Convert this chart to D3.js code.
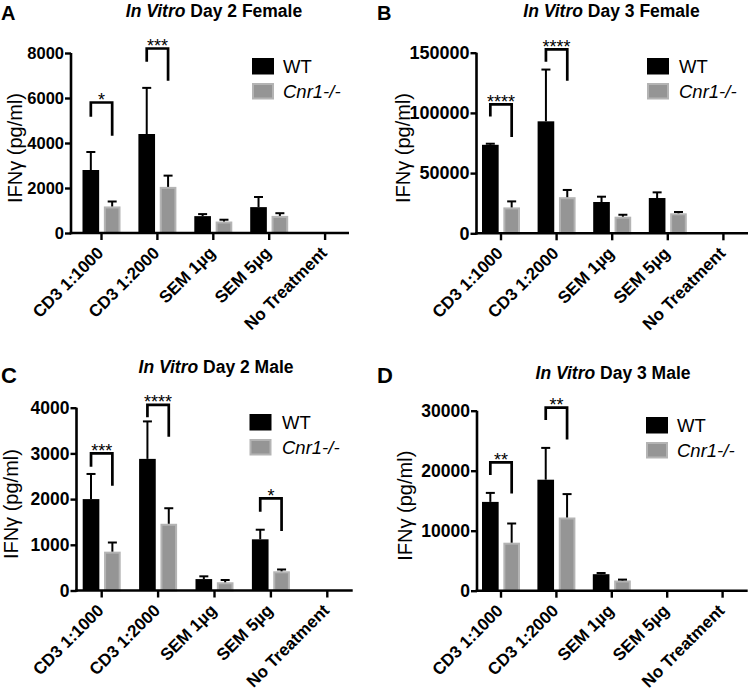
<!DOCTYPE html>
<html><head><meta charset="utf-8">
<script src="https://cdn.jsdelivr.net/npm/d3@7"></script>
<style>body{margin:0;background:#fff} text{font-family:"Liberation Sans",Arial,Helvetica,sans-serif}</style>
</head><body>
<svg id="chart" width="750" height="690"></svg>
<script>
// ---------- data ----------
const categories = ["CD3 1:1000", "CD3 1:2000", "SEM 1µg", "SEM 5µg", "No Treatment"];
const seriesNames = ["WT", "Cnr1-/-"];
const panelLetters = ["A", "B", "C", "D"];
const titleItalic = "In Vitro";
const titleRest = ["Day 2 Female", "Day 3 Female", "Day 2 Male", "Day 3 Male"];
const yLabel = "IFNγ (pg/ml)";

const yTicksA = [0, 2000, 4000, 6000, 8000];
const yTicksB = [0, 50000, 100000, 150000];
const yTicksC = [0, 1000, 2000, 3000, 4000];
const yTicksD = [0, 10000, 20000, 30000];

// means and error (upper SD) per panel
const wtA = [2800, 4400, 750, 1150, 0];
const wtErrA = [800, 2050, 90, 450, 0];
const koA = [1180, 2050, 510, 760, 0];
const koErrA = [220, 500, 80, 120, 0];

const wtB = [73500, 93000, 26000, 29300, 0];
const wtErrB = [900, 43000, 4400, 4700, 0];
const koB = [21500, 30000, 13800, 16600, 0];
const koErrB = [5000, 6000, 1600, 1100, 0];

const wtC = [2000, 2880, 250, 1120, 0];
const wtErrC = [550, 820, 60, 210, 0];
const koC = [850, 1460, 180, 420, 0];
const koErrC = [200, 340, 50, 40, 0];

const wtD = [14800, 18500, 2750, 0, 0];
const wtErrD = [1500, 5300, 200, 0, 0];
const koD = [8000, 12200, 1700, 0, 0];
const koErrD = [3200, 3900, 150, 0, 0];

// significance brackets: [category index, top, left end, right end, label] (data units)
const sigA = [[0, 5800, 5170, 4320, "*"], [1, 8200, 7610, 6770, "***"]];
const sigB = [[0, 107000, 97000, 80000, "****"], [1, 152800, 142500, 126700, "****"]];
const sigC = [[0, 3000, 2710, 2290, "***"], [1, 4060, 3790, 3365, "****"], [3, 2017, 1724, 1302, "*"]];
const sigD = [[0, 21400, 19300, 16200, "**"], [1, 30500, 28450, 25200, "**"]];

// ---------- layout ----------
const layout = [
  {ax: 71, axEnd: 349, firstTick: 101.5, step: 55.9, y0: 233, y1: 53, tickFont: 16.5,
   labX: 15, titleX: 214, titleY: 17, letX: 1, letY: 19.5, letFont: 20, legX: 252, legY: 58, legText: 283},
  {ax: 476.5, axEnd: 748, firstTick: 501, step: 55.6, y0: 233.3, y1: 52.7, tickFont: 18,
   labX: 403, titleX: 611.5, titleY: 17, letX: 377, letY: 19.5, letFont: 20, legX: 647, legY: 58, legText: 679},
  {ax: 76.5, axEnd: 352.7, firstTick: 101.7, step: 56.4, y0: 590.5, y1: 407.7, tickFont: 17.5,
   labX: 11, titleX: 216, titleY: 373, letX: 1, letY: 383, letFont: 22, legX: 249.5, legY: 414, legText: 282},
  {ax: 477, axEnd: 747.7, firstTick: 501, step: 55.4, y0: 590.7, y1: 410.7, tickFont: 17.5,
   labX: 405, titleX: 613, titleY: 379, letX: 377, letY: 383, letFont: 22, legX: 646, legY: 417, legText: 677}
];
const panelTicks = [yTicksA, yTicksB, yTicksC, yTicksD];
const panelVals = [[wtA, koA], [wtB, koB], [wtC, koC], [wtD, koD]];
const panelErrs = [[wtErrA, koErrA], [wtErrB, koErrB], [wtErrC, koErrC], [wtErrD, koErrD]];
const panelSig = [sigA, sigB, sigC, sigD];

const fills = ["#000000", "#959595"];
const strokes = ["#000000", "#b4b4b4"];

const svg = d3.select("#chart");

layout.forEach((p, pi) => {
  const g = svg.append("g");
  const ticks = panelTicks[pi];
  const y = d3.scaleLinear().domain([0, d3.max(ticks)]).range([p.y0, p.y1]);
  const x = d3.scaleBand().domain(categories)
    .range([p.firstTick - p.step / 2, p.firstTick + p.step * 4.5]);
  const xs = d3.scaleBand().domain(seriesNames).range([-19, 19]).paddingInner(0.22);
  const cx = (c, s) => x(c) + x.bandwidth() / 2 + xs(s) + xs.bandwidth() / 2;

  // bars
  seriesNames.forEach((s, si) => {
    const rows = categories.map((c, i) => ({c, v: panelVals[pi][si][i], e: panelErrs[pi][si][i]}));
    const bw = xs.bandwidth();
    g.selectAll(null).data(rows.filter(d => d.v > 0)).enter().append("rect")
      .attr("x", d => cx(d.c, s) - bw / 2 + (si ? 1 : 0))
      .attr("width", bw - (si ? 2 : 0))
      .attr("y", d => y(d.v) + (si ? 1 : 0))
      .attr("height", d => y(0) - y(d.v) - (si ? 1 : 0))
      .attr("fill", fills[si])
      .attr("stroke", si ? strokes[si] : "none")
      .attr("stroke-width", 2);
    const er = rows.filter(d => d.e > 0);
    g.selectAll(null).data(er).enter().append("line")
      .attr("x1", d => cx(d.c, s)).attr("x2", d => cx(d.c, s))
      .attr("y1", d => y(d.v)).attr("y2", d => y(d.v + d.e))
      .attr("stroke", "#000").attr("stroke-width", 2);
    g.selectAll(null).data(er).enter().append("line")
      .attr("x1", d => cx(d.c, s) - 4.5).attr("x2", d => cx(d.c, s) + 4.5)
      .attr("y1", d => y(d.v + d.e)).attr("y2", d => y(d.v + d.e))
      .attr("stroke", "#000").attr("stroke-width", 2);
  });

  // y axis
  const yAxis = g.append("g").attr("transform", `translate(${p.ax},0)`)
    .call(d3.axisLeft(y).tickValues(ticks).tickSize(6).tickSizeOuter(0).tickPadding(1).tickFormat(d3.format("d")));
  yAxis.select(".domain").attr("stroke-width", 2.6).attr("d", `M0,${p.y1}V${p.y0 + 1.3}`);
  yAxis.selectAll(".tick line").attr("stroke-width", 2.4);
  yAxis.selectAll(".tick text").attr("font-size", p.tickFont).attr("font-weight", "bold")
    .attr("font-family", "Liberation Sans, Arial, sans-serif").attr("fill", "#000");

  // x axis
  const xAxis = g.append("g").attr("transform", `translate(0,${p.y0})`)
    .call(d3.axisBottom(x).tickSize(7).tickSizeOuter(0));
  xAxis.select(".domain").remove();
  xAxis.append("line").attr("x1", p.ax - 1.3).attr("x2", p.axEnd).attr("y1", 0).attr("y2", 0)
    .attr("stroke", "#000").attr("stroke-width", 2.6);
  xAxis.selectAll(".tick line").attr("stroke-width", 2.4);
  xAxis.selectAll(".tick text")
    .attr("font-size", 17).attr("font-weight", "bold").attr("fill", "#000")
    .attr("font-family", "Liberation Sans, Arial, sans-serif")
    .attr("text-anchor", "end").attr("dy", null).attr("x", 0).attr("y", 0)
    .attr("transform", "translate(3,21) rotate(-45)");

  // y label
  g.append("text").attr("transform", `translate(${p.labX},${(p.y0 + p.y1) / 2 + 5}) rotate(-90)`)
    .attr("text-anchor", "middle").attr("font-size", 20).attr("dy", "0.35em").text(yLabel);

  // title
  const t = g.append("text").attr("x", p.titleX).attr("y", p.titleY)
    .attr("text-anchor", "middle").attr("font-size", 17.5).attr("font-weight", "bold");
  t.append("tspan").attr("font-style", "italic").text(titleItalic);
  t.append("tspan").text(" " + titleRest[pi]);

  // panel letter
  g.append("text").attr("x", p.letX).attr("y", p.letY).attr("font-size", p.letFont)
    .attr("font-weight", "bold").text(panelLetters[pi]);

  // significance brackets
  panelSig[pi].forEach(([ci, top, lb, rb, lab]) => {
    const c = categories[ci];
    const xl = cx(c, seriesNames[0]), xr = cx(c, seriesNames[1]);
    g.append("path").attr("d", `M${xl},${y(lb)}V${y(top)}H${xr}V${y(rb)}`)
      .attr("fill", "none").attr("stroke", "#000").attr("stroke-width", 2.7);
    g.append("text").attr("x", (xl + xr) / 2).attr("y", y(top) + 3.5)
      .attr("text-anchor", "middle").attr("font-size", 18).text(lab);
  });

  // legend
  seriesNames.forEach((s, si) => {
    const ly = p.legY + si * 25;
    g.append("rect").attr("x", p.legX + (si ? 1 : 0)).attr("y", ly + (si ? 1 : 0))
      .attr("width", 22 - (si ? 2 : 0)).attr("height", 16.5 - (si ? 2 : 0))
      .attr("fill", fills[si]).attr("stroke", si ? strokes[si] : "none").attr("stroke-width", 2);
    g.append("text").attr("x", p.legText).attr("y", ly + 15)
      .attr("font-size", 18.5).attr("font-style", si ? "italic" : "normal").text(s);
  });
});
</script>
</body></html>
